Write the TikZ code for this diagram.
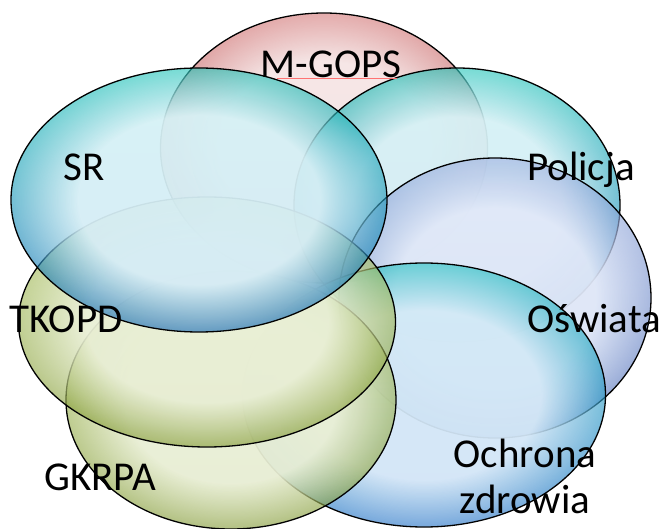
\documentclass[tikz,border=0pt]{standalone}
\usepackage{fontspec}
\setmainfont{Carlito}
\usetikzlibrary{positioning, shapes.geometric, fadings}

% bubble colours: top rim, bottom rim, light centre
\definecolor{redtop}{HTML}{D27474}
\definecolor{redbot}{HTML}{A83C3C}
\definecolor{redin}{HTML}{FAF2F2}
\definecolor{cyantop}{HTML}{1CC4B8}
\definecolor{cyanbot}{HTML}{0C62B4}
\definecolor{cyanin}{HTML}{EAF8FC}
\definecolor{greentop}{HTML}{B0C866}
\definecolor{greenbot}{HTML}{7E962E}
\definecolor{greenin}{HTML}{F2F6E4}
\definecolor{lavtop}{HTML}{9CB0E0}
\definecolor{lavbot}{HTML}{4466B4}
\definecolor{lavin}{HTML}{EAF0FC}
\definecolor{bluetop}{HTML}{1CC0C0}
\definecolor{bluebot}{HTML}{1C6CC4}
\definecolor{bluein}{HTML}{E6F0FC}

% light centre, fading out towards the rim
\pgfdeclareradialshading{bubblefadeshade}{\pgfpoint{0bp}{0bp}}{color(0bp)=(pgftransparent!0); color(16bp)=(pgftransparent!0); color(25bp)=(pgftransparent!100); color(50bp)=(pgftransparent!100)}
\pgfdeclarefading{bubble fade}{\pgfuseshading{bubblefadeshade}}

\begin{document}
\begin{tikzpicture}[x=1pt, y=-1pt,
    bubble/.style={ellipse, inner sep=0pt, draw=black, line width=1.3pt,
                   fill opacity=0.6},
    glare/.style={ellipse, inner sep=0pt, fill opacity=0.85,
                  path fading=bubble fade},
    lbl/.style={font=\fontsize{41}{46}\selectfont, align=center, text=black, anchor=base}]
\useasboundingbox (0,0) rectangle (664,529);

% M-GOPS
\node[bubble, top color=redtop, bottom color=redbot,
      minimum width=327pt, minimum height=270pt] (mgops) at (324,148) {};
\node[glare, fill=redin, minimum width=327pt, minimum height=270pt] at (mgops) {};

% Policja
\node[bubble, top color=cyantop, bottom color=cyanbot,
      minimum width=326pt, minimum height=274pt] (policja) at (457,205) {};
\node[glare, fill=cyanin, minimum width=326pt, minimum height=274pt] at (policja) {};

% Oswiata
\node[bubble, top color=lavtop, bottom color=lavbot,
      minimum width=312pt, minimum height=280pt] (oswiata) at (495,298) {};
\node[glare, fill=lavin, minimum width=312pt, minimum height=280pt] at (oswiata) {};

% Ochrona zdrowia
\node[bubble, top color=bluetop, bottom color=bluebot,
      minimum width=363pt, minimum height=264pt] (ochrona) at (424,395) {};
\node[glare, fill=bluein, minimum width=363pt, minimum height=264pt] at (ochrona) {};

% GKRPA
\node[bubble, top color=greentop, bottom color=greenbot,
      minimum width=330pt, minimum height=258pt] (gkrpa) at (231,400) {};
\node[glare, fill=greenin, minimum width=330pt, minimum height=258pt] at (gkrpa) {};

% TKOPD
\node[bubble, top color=greentop, bottom color=greenbot,
      minimum width=377pt, minimum height=250pt] (tkopd) at (207,322) {};
\node[glare, fill=greenin, minimum width=377pt, minimum height=250pt] at (tkopd) {};

% SR
\node[bubble, top color=cyantop, bottom color=cyanbot,
      minimum width=376pt, minimum height=264pt] (sr) at (199,200) {};
\node[glare, fill=cyanin, minimum width=376pt, minimum height=264pt] at (sr) {};

% labels
\node[lbl] (mgopsl)   at (331,78)  {M-GOPS};
\node[lbl] (srl)      at (84,181)  {SR};
\node[lbl] (policjal) at (581,181) {Policja};
\node[lbl] (tkopdl)   at (66,332)  {TKOPD};
\node[lbl] (oswiatal) at (594,332) {Oświata};
\node[lbl] (gkrpal)   at (100,490) {GKRPA};
\node[lbl] (ochronal) at (525,513) {Ochrona\\zdrowia};

\draw[red!55, line width=0.6pt] ([xshift=20pt]mgopsl.base west) -- ([xshift=-8pt]mgopsl.base east);
\end{tikzpicture}
\end{document}
